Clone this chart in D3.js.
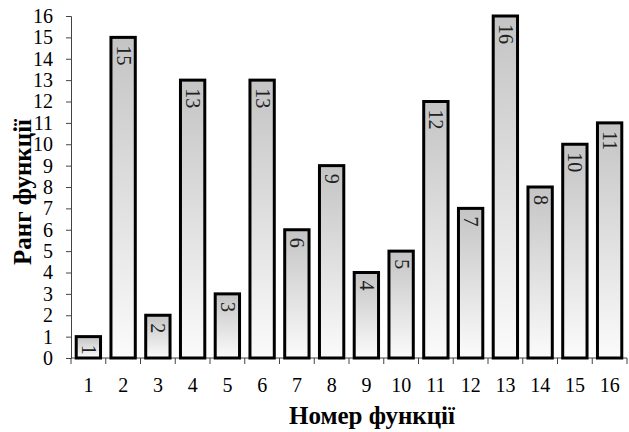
<!DOCTYPE html>
<html>
<head>
<meta charset="utf-8">
<script src="https://cdn.jsdelivr.net/npm/d3@7"></script>
<style>
  body { margin: 0; background: #fff; }
  svg { display: block; }
  svg text { font-family: "Liberation Serif", "Times New Roman", serif; }
</style>
</head>
<body>
<div id="chart"></div>
<script>
// function numbers and their ranks
const functions = ['1', '2', '3', '4', '5', '6', '7', '8', '9', '10', '11', '12', '13', '14', '15', '16'];
const ranks = [1, 15, 2, 13, 3, 13, 6, 9, 4, 5, 12, 7, 16, 8, 10, 11];
const yTicks = d3.range(0, 17);

const width = 629, height = 432;
const margin = { top: 16, right: 2, bottom: 74, left: 71 };

const svg = d3.select('#chart').append('svg').attr('width', width).attr('height', height);

const grad = svg.append('defs').append('linearGradient')
  .attr('id', 'barFill').attr('x1', 0).attr('y1', 0).attr('x2', 0).attr('y2', 1);
grad.append('stop').attr('offset', '0%').attr('stop-color', '#c4c4c4');
grad.append('stop').attr('offset', '100%').attr('stop-color', '#fbfbfb');

const x = d3.scaleBand().domain(functions).range([margin.left, width - margin.right]).paddingInner(0.3).paddingOuter(0.15);
const y = d3.scaleLinear().domain([0, 16]).range([height - margin.bottom, margin.top]);
const cellW = (width - margin.right - margin.left) / functions.length;

// y axis
const yAxis = svg.append('g').attr('transform', `translate(${margin.left},0)`)
  .call(d3.axisLeft(y).tickValues(yTicks).tickSize(5).tickPadding(13));
yAxis.attr('font-family', null);
yAxis.selectAll('text').style('font-size', '20px').attr('fill', '#000');
yAxis.selectAll('line, path').attr('stroke', '#444');

// x axis with ticks on band boundaries
const xAxisG = svg.append('g').attr('transform', `translate(0,${y(0)})`);
xAxisG.append('line').attr('x1', margin.left).attr('x2', width - margin.right)
  .attr('stroke', '#444');
xAxisG.selectAll('.tk').data(functions.concat(['end'])).join('line')
  .attr('x1', (d, i) => margin.left + i * cellW)
  .attr('x2', (d, i) => margin.left + i * cellW)
  .attr('y1', 0).attr('y2', 6).attr('stroke', '#444');
xAxisG.selectAll('.lbl').data(functions).join('text')
  .attr('x', d => x(d) + x.bandwidth() / 2)
  .attr('y', 34)
  .attr('text-anchor', 'middle')
  .style('font-size', '20px')
  .text(d => d);

// bars
const bars = svg.append('g');
bars.selectAll('rect').data(ranks).join('rect')
  .attr('x', (d, i) => x(functions[i]))
  .attr('y', d => y(d))
  .attr('width', x.bandwidth())
  .attr('height', d => y(0) - y(d))
  .attr('fill', 'url(#barFill)')
  .attr('stroke', '#000')
  .attr('stroke-width', 3);

// value labels, rotated, reading downwards
bars.selectAll('text').data(ranks).join('text')
  .attr('transform', (d, i) => `translate(${x(functions[i]) + x.bandwidth() / 2 - 6.5},${y(d) + 8}) rotate(90)`)
  .style('font-size', '20px')
  .attr('fill', '#222')
  .text(d => d);

// axis titles
svg.append('text')
  .attr('transform', `translate(31,${(margin.top + y(0)) / 2 + 5}) rotate(-90)`)
  .attr('text-anchor', 'middle')
  .style('font-size', '25px').style('font-weight', 'bold')
  .text('Ранг функції');

svg.append('text')
  .attr('x', 372)
  .attr('y', 424)
  .attr('text-anchor', 'middle')
  .style('font-size', '25px').style('font-weight', 'bold')
  .text('Номер функції');
</script>
</body>
</html>
